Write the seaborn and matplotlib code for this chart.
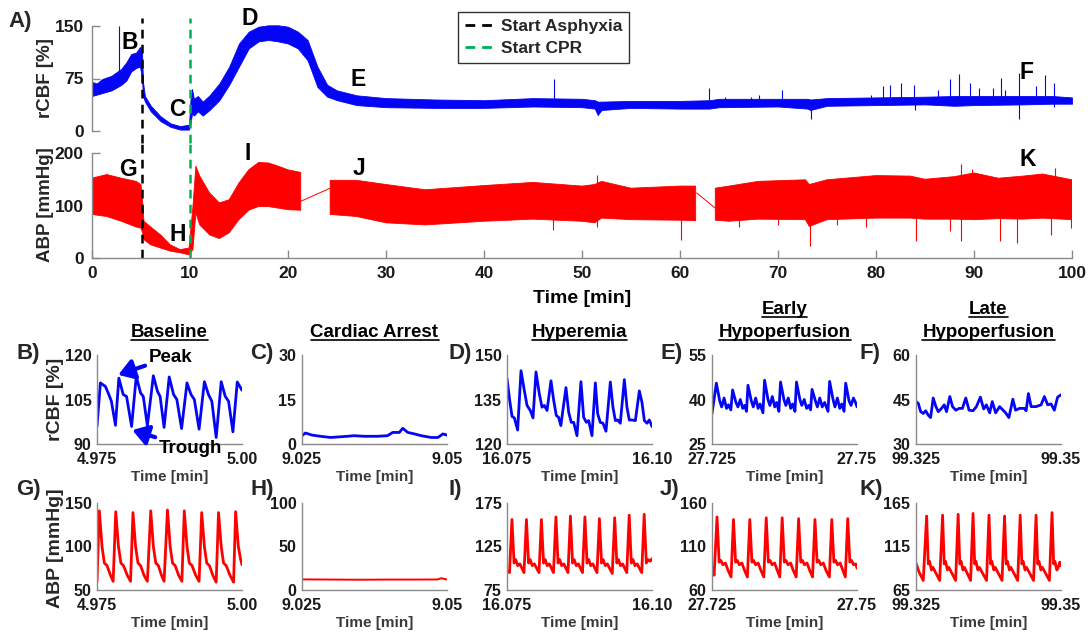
import numpy as np
import pandas as pd
import matplotlib
matplotlib.use('Agg')
import matplotlib.pyplot as plt
import seaborn as sns
from matplotlib.lines import Line2D

# ---------------- DATA ----------------
# Panel A (top): envelope of rCBF [%] over time [min]
rcbf_t  = [0, 0.5, 1, 2, 3, 3.5, 4, 4.5, 4.9, 5.1, 5.2, 5.4, 6, 7, 8, 9, 9.9, 10.05, 10.2, 10.4, 10.8,
           11.3, 12, 13, 14, 15, 16, 17, 18, 19, 20, 21, 22, 23, 24, 25, 27, 30, 35, 40, 45, 50, 51.3,
           51.6, 52, 55, 60, 63, 64, 70, 73, 73.3, 75, 80, 85, 88, 90, 95, 98, 100]
rcbf_lo = [50, 52, 54, 58, 66, 72, 85, 90, 92, 75, 50, 42, 28, 14, 6, 2, 2, 10, 25, 22, 28,
           22, 30, 44, 66, 92, 118, 128, 130, 128, 125, 118, 101, 63, 49, 44, 37, 34, 33, 33, 35, 34, 32,
           23, 30, 33, 32, 32, 34, 35, 32, 30, 36, 37, 38, 36, 37, 38, 39, 39]
rcbf_hi = [70, 68, 74, 79, 89, 98, 110, 112, 120, 115, 70, 50, 36, 21, 11, 7, 9, 45, 60, 46, 50,
           42, 51, 68, 92, 125, 142, 149, 151, 151, 149, 142, 130, 92, 66, 58, 51, 47, 45, 44, 47, 46, 44,
           42, 42, 43, 43, 44, 46, 46, 46, 45, 47, 48, 49, 50, 50, 50, 50, 48]
rcbf_spike_t  = [2.8, 47.1, 51.6, 63.0, 64.6, 67.2, 68.1, 70.4, 73.4, 79.5, 80.7, 81.4, 82.5, 83.9, 84.0,
                 86.3, 87.6, 88.5, 89.6, 90.5, 91.9, 92.8, 93.2, 94.6, 94.6, 96.3, 97.2, 98.2, 98.2]
rcbf_spike_lo = [70, 45, 23, 44, 44, 44, 44, 44, 17, 46, 46, 46, 46, 46, 30,
                 47, 47, 47, 47, 47, 47, 47, 47, 47, 17, 47, 47, 47, 34]
rcbf_spike_hi = [150, 74, 40, 62, 49, 48, 51, 59, 40, 51, 64, 66, 69, 66, 40,
                 58, 74, 81, 68, 61, 62, 76, 58, 83, 40, 64, 80, 69, 40]

# Panel A (bottom): envelope of ABP [mmHg]; NaN marks recording gaps
abp_t  = [0, 1.5, 3, 4.5, 5.0, 5.2, 5.3, 6, 7, 8, 9, 9.9, 10.3, 10.6, 11, 12, 13, 14, 15, 16, 17, 18, 19,
          20, 21.3, 22.8, 24.3, 27, 30, 34, 40, 45, 50, 51.3, 52, 55, 60, 61.6, 62.6, 63.6, 65, 68, 72.8,
          73.2, 75, 80, 83.5, 85, 88, 90, 92.5, 95, 97, 100]
abp_lo = [83, 79, 70, 59, 57, 45, 35, 25, 19, 13, 10, 6, 16, 86, 63, 44, 37, 48, 73, 91, 98, 98, 95,
          92, 91, np.nan, 83, 79, 67, 63, 70, 74, 70, 67, 76, 73, 72, 71, np.nan, 72, 70, 74, 73,
          60, 73, 76, 76, 74, 74, 73, 75, 74, 76, 73]
abp_hi = [152, 159, 152, 146, 140, 100, 70, 59, 44, 25, 16, 19, 98, 175, 156, 124, 105, 111, 143, 168, 182, 181, 175,
          168, 163, np.nan, 148, 148, 140, 130, 138, 144, 137, 140, 146, 133, 137, 137, np.nan, 133, 137, 146, 149,
          140, 149, 157, 156, 150, 155, 162, 152, 156, 160, 149]
abp_bridge1_t = [21.3, 24.3]
abp_bridge1_v = [108, 133]
abp_bridge2_t = [61.7, 63.6]
abp_bridge2_v = [124, 95]
abp_spike_t  = [47.0, 51.5, 60.1, 66.0, 70.0, 73.3, 76.0, 79.0, 84.1, 87.6, 88.7, 89.8, 92.7, 94.4, 97.9, 98.3, 99.9]
abp_spike_lo = [54, 60, 35, 60, 62, 23, 62, 60, 32, 51, 32, 120, 32, 29, 44, 120, 57]
abp_spike_hi = [80, 159, 75, 75, 75, 80, 76, 76, 80, 80, 180, 170, 80, 80, 80, 171, 80]

# Event markers [min]
asphyxia_t = 5.1
cpr_t = 10.0

# Letters marked on panel A
rcbf_marks = ['B', 'C', 'D', 'E', 'F']
rcbf_mark_t = [3.9, 8.7, 16.1, 27.2, 95.4]
rcbf_mark_v = [127, 30, 161, 73, 83]
abp_marks = ['G', 'H', 'I', 'J', 'K']
abp_mark_t = [3.7, 8.7, 15.9, 27.2, 95.5]
abp_mark_v = [168, 44, 200, 171, 187]

# Zoomed windows (1.5 s each), times in ms from window start
win_start = [4.975, 9.025, 16.075, 27.725, 99.325]
win_labels = [('4.975', '5.00'), ('9.025', '9.05'), ('16.075', '16.10'), ('27.725', '27.75'), ('99.325', '99.35')]
titles = ['Baseline', 'Cardiac Arrest', 'Hyperemia', 'Early\nHypoperfusion', 'Late\nHypoperfusion']

B_ms = [0, 35, 87, 122, 149, 191, 226, 271, 306, 358, 406, 451, 479, 521, 583, 625, 653, 694, 747, 792, 826,
        875, 931, 972, 1007, 1056, 1111, 1153, 1188, 1233, 1285, 1326, 1361, 1406, 1451, 1500]
B_val = [95.9, 110.6, 109.4, 106.7, 104.4, 96.3, 112.2, 106.7, 106.0, 95.9, 112.8, 107.2, 106.0, 96.1, 113.0,
         107.8, 106.0, 95.6, 112.6, 106.7, 105.0, 95.2, 110.6, 106.7, 105.0, 95.0, 111.0, 106.7, 104.4, 92.2,
         111.0, 106.1, 104.4, 94.1, 110.9, 108.1]
C_ms = [0, 35, 104, 191, 295, 469, 538, 642, 781, 885, 938, 1007, 1042, 1094, 1163, 1233, 1337, 1406, 1458, 1500]
C_val = [2.8, 3.7, 3.0, 2.6, 2.2, 2.6, 2.8, 2.6, 2.6, 2.8, 3.9, 3.9, 5.3, 3.9, 3.4, 2.8, 2.2, 2.2, 3.4, 3.0]
D_ms = [0, 28, 52, 76, 110, 145, 179, 207, 241, 269, 300, 334, 362, 386, 414, 455, 483, 510, 534, 557, 610,
        638, 665, 690, 724, 765, 793, 821, 845, 879, 914, 938, 965, 993, 1024, 1069, 1096, 1121, 1145, 1172,
        1214, 1241, 1265, 1293, 1328, 1369, 1396, 1421, 1448, 1472, 1500]
D_val = [142.1, 134.7, 129.3, 128.8, 124.7, 144.7, 138.1, 133.0, 131.3, 128.8, 144.3, 137.0, 132.4, 133.0, 131.3,
         141.3, 134.7, 129.6, 129.0, 126.2, 139.0, 130.7, 127.3, 127.3, 122.8, 141.0, 129.0, 127.3, 127.9, 122.8,
         140.6, 130.2, 127.3, 127.0, 124.3, 140.9, 132.4, 127.9, 128.1, 127.0, 141.7, 132.4, 128.1, 128.1, 127.9,
         137.9, 134.1, 127.9, 127.0, 128.1, 125.9]
E_ms = [0, 45, 80, 100, 125, 150, 170, 195, 213, 248, 268, 293, 318, 338, 357, 372, 407, 427, 452, 477, 497, 527,
        544, 579, 599, 624, 649, 669, 692, 709, 744, 764, 789, 814, 834, 858, 874, 909, 929, 954, 979, 999, 1020,
        1035, 1070, 1090, 1115, 1140, 1165, 1200, 1217, 1252, 1272, 1297, 1322, 1342, 1366, 1383, 1418, 1438,
        1463, 1485, 1500]
E_val = [35.2, 45.5, 39.5, 37.5, 40.5, 37.0, 38.2, 36.5, 43.2, 39.0, 37.5, 40.0, 37.0, 38.0, 36.0, 44.8, 39.5, 37.5,
         40.5, 37.0, 38.5, 35.5, 46.5, 40.0, 38.0, 41.0, 37.5, 39.0, 36.0, 45.9, 40.0, 38.0, 40.5, 37.0, 38.5, 36.0,
         45.9, 40.0, 38.0, 40.0, 37.0, 38.0, 36.5, 43.4, 39.5, 37.5, 40.5, 37.5, 39.0, 36.0, 46.1, 40.0, 37.5, 40.5,
         37.0, 38.5, 36.0, 45.5, 39.5, 38.0, 40.5, 39.0, 37.5]
F_ms = [0, 24, 48, 76, 100, 127, 151, 178, 206, 230, 264, 292, 316, 350, 378, 412, 446, 480, 515, 549, 590, 625,
        666, 700, 728, 762, 789, 824, 865, 892, 927, 961, 1002, 1030, 1071, 1122, 1139, 1163, 1191, 1242, 1294,
        1328, 1362, 1397, 1431, 1465, 1500]
F_val = [44.3, 43.7, 40.9, 40.3, 41.2, 39.7, 38.9, 45.5, 42.6, 40.9, 42.0, 43.2, 40.9, 46.0, 42.6, 41.4, 42.0, 42.0,
         45.5, 41.4, 41.2, 42.6, 45.8, 41.8, 43.2, 40.5, 44.3, 40.5, 42.6, 41.7, 40.5, 38.9, 45.1, 41.4, 42.0, 42.0,
         41.2, 47.0, 42.6, 42.6, 43.2, 46.0, 43.2, 43.5, 41.4, 45.8, 46.6]
G_ms = [0, 24, 52, 76, 104, 139, 167, 194, 222, 247, 274, 313, 347, 372, 399, 424, 451, 486, 521, 556, 583, 608,
        635, 667, 694, 729, 757, 781, 809, 844, 878, 903, 931, 955, 983, 1021, 1056, 1083, 1111, 1135, 1163, 1198,
        1233, 1257, 1285, 1309, 1337, 1375, 1413, 1434, 1462, 1486, 1500]
G_val = [59.5, 141, 100, 81, 78, 67, 60, 140, 100, 81, 78, 67, 60, 139, 100, 81, 78, 67, 60, 141, 100, 81, 78, 67,
         60, 142, 100, 81, 78, 67, 60, 141, 100, 81, 78, 67, 60, 139, 100, 81, 78, 67, 59, 139, 100, 81, 78, 67, 59,
         140, 100, 85, 79]
H_ms = [0, 300, 600, 900, 1200, 1400, 1440, 1470, 1500]
H_val = [12.2, 12.0, 11.8, 12.0, 12.0, 12.1, 13.5, 12.8, 12.0]
I_ms = [0, 26, 51, 73, 90, 111, 133, 176, 201, 223, 240, 261, 283, 331, 356, 378, 395, 416, 438, 481, 506, 528,
        545, 566, 588, 631, 656, 678, 695, 716, 738, 781, 806, 828, 845, 866, 888, 931, 956, 978, 995, 1016, 1038,
        1089, 1114, 1136, 1153, 1174, 1196, 1239, 1264, 1286, 1303, 1324, 1346, 1394, 1419, 1441, 1458, 1480, 1500]
I_val = [97, 95, 156, 106, 110, 103, 105, 95, 156, 106, 110, 103, 105, 95, 156, 106, 110, 103, 105, 95, 159, 106,
         110, 103, 105, 95, 160, 106, 110, 103, 105, 95, 159, 106, 110, 103, 105, 95, 157, 106, 110, 103, 105, 94,
         158, 106, 110, 103, 105, 95, 161, 106, 110, 103, 105, 95, 162, 106, 110, 108, 111]
J_ms = [0, 22, 52, 74, 91, 113, 139, 165, 197, 222, 244, 261, 283, 309, 335, 366, 391, 413, 430, 452, 478, 504,
        536, 561, 583, 600, 622, 648, 674, 701, 726, 748, 765, 787, 813, 839, 871, 896, 918, 935, 957, 983, 1009,
        1040, 1065, 1087, 1104, 1126, 1152, 1178, 1214, 1239, 1261, 1278, 1300, 1326, 1352, 1379, 1404, 1426,
        1443, 1465, 1487, 1500]
J_val = [86, 77, 144, 92, 94, 89, 91, 83, 75, 141, 92, 94, 89, 91, 83, 75, 141, 92, 94, 89, 91, 83, 75, 143, 92,
         94, 89, 91, 83, 75, 143, 92, 94, 89, 91, 83, 75, 142, 92, 94, 89, 91, 83, 75, 141, 92, 94, 89, 91, 83, 75,
         141, 92, 94, 89, 91, 83, 75, 142, 92, 94, 89, 90, 85]
K_ms = [0, 30, 75, 110, 127, 140, 160, 175, 245, 275, 292, 305, 325, 340, 410, 436, 453, 466, 486, 501, 565, 590,
        607, 620, 640, 655, 730, 755, 772, 785, 805, 820, 890, 916, 933, 946, 966, 981, 1052, 1078, 1095, 1108,
        1128, 1143, 1216, 1242, 1259, 1272, 1292, 1307, 1380, 1407, 1424, 1437, 1457, 1472, 1488, 1500]
K_val = [96, 86, 76, 150, 95, 98, 88, 91, 76, 151, 95, 98, 88, 91, 76, 152, 95, 98, 88, 91, 76, 153, 95, 98, 88,
         91, 76, 151, 95, 98, 88, 91, 76, 150, 95, 98, 88, 91, 76, 151, 95, 98, 88, 91, 76, 151, 95, 98, 88, 91,
         76, 154, 95, 98, 88, 91, 97, 93]

rcbf_rows = [(B_ms, B_val), (C_ms, C_val), (D_ms, D_val), (E_ms, E_val), (F_ms, F_val)]
abp_rows = [(G_ms, G_val), (H_ms, H_val), (I_ms, I_val), (J_ms, J_val), (K_ms, K_val)]
rcbf_yticks = [(90, 105, 120), (0, 15, 30), (120, 135, 150), (25, 40, 55), (30, 45, 60)]
abp_yticks = [(50, 100, 150), (0, 50, 100), (75, 125, 175), (60, 110, 160), (65, 115, 165)]
row1_letters = ['B)', 'C)', 'D)', 'E)', 'F)']
row2_letters = ['G)', 'H)', 'I)', 'J)', 'K)']

# ---------------- STYLE ----------------
sns.set_theme(style='white')
plt.rcParams['font.family'] = ['Liberation Sans', 'DejaVu Sans']
plt.rcParams['font.weight'] = 'bold'
plt.rcParams['axes.labelweight'] = 'bold'

BLUE = '#0505f5'
RED = '#ff0000'
GREEN = '#00b050'
GRAY = '#8a8a8a'
TXT = '#1a1a1a'

W, H = 1091, 637
fig = plt.figure(figsize=(W / 100, H / 100), dpi=100)


def px_axes(left, top, right, bottom):
    return fig.add_axes([left / W, 1 - bottom / H, (right - left) / W, (bottom - top) / H])


def style_spines(ax, left=True, bottom=True):
    for s in ['top', 'right']:
        ax.spines[s].set_visible(False)
    ax.spines['left'].set_visible(left)
    ax.spines['bottom'].set_visible(bottom)
    for s in ['left', 'bottom']:
        ax.spines[s].set_color(GRAY)
        ax.spines[s].set_linewidth(1.0)


# ---------------- PANEL A: rCBF ----------------
axA = px_axes(92, 26, 1072, 131)
axA.fill_between(rcbf_t, rcbf_lo, rcbf_hi, color=BLUE, lw=0.6, clip_on=False)
axA.vlines(rcbf_spike_t, rcbf_spike_lo, rcbf_spike_hi, color=BLUE, lw=0.8)
axA.set_xlim(0, 100)
axA.set_ylim(0, 150)
style_spines(axA, left=True, bottom=False)
axA.set_xticks([])
axA.set_yticks([0, 75, 150])
axA.tick_params(axis='y', direction='in', length=6, width=1, color=GRAY, pad=6,
                labelsize=12.5, labelcolor=TXT, left=True)
for lab in axA.get_yticklabels():
    lab.set_fontweight('bold')
axA.axvline(asphyxia_t, ymin=-0.11, ymax=1.08, color='black', ls=(0, (3.5, 2.5)), lw=1.8, clip_on=False)
axA.axvline(cpr_t, ymin=-0.11, ymax=1.08, color=GREEN, ls=(0, (3.5, 2.5)), lw=1.8, clip_on=False)
for m, t, v in zip(rcbf_marks, rcbf_mark_t, rcbf_mark_v):
    axA.text(t, v, m, ha='center', va='center', fontsize=16.5, fontweight='bold', color='black', clip_on=False)

handles = [Line2D([], [], color='black', ls=(0, (3.5, 2.5)), lw=2),
           Line2D([], [], color=GREEN, ls=(0, (3.5, 2.5)), lw=2)]
leg = axA.legend(handles, ['Start Asphyxia', 'Start CPR'], loc='upper left',
                 bbox_to_anchor=(458 / W, 1 - 12 / H), bbox_transform=fig.transFigure,
                 frameon=True, fancybox=False, edgecolor='#333333', framealpha=1,
                 prop=dict(weight='bold', size=12.5), handlelength=1.6, handletextpad=0.45,
                 borderpad=0.4, labelspacing=0.4, borderaxespad=0)
leg.get_frame().set_linewidth(1.0)

# ---------------- PANEL A: ABP ----------------
axP = px_axes(92, 153, 1072, 258)
abp_df = pd.DataFrame({'t': abp_t, 'lo': abp_lo, 'hi': abp_hi})
valid = abp_df['lo'].notna().values
axP.fill_between(abp_df['t'], abp_df['lo'].fillna(0), abp_df['hi'].fillna(0), where=valid,
                 color=RED, lw=0.6, interpolate=False)
axP.vlines(abp_spike_t, abp_spike_lo, abp_spike_hi, color=RED, lw=0.8)
sns.lineplot(x=abp_bridge1_t, y=abp_bridge1_v, ax=axP, color=RED, lw=0.7)
sns.lineplot(x=abp_bridge2_t, y=abp_bridge2_v, ax=axP, color=RED, lw=0.7)
axP.set_xlim(0, 100)
axP.set_ylim(0, 200)
style_spines(axP)
axP.set_xticks(range(0, 101, 10))
axP.set_yticks([0, 100, 200])
axP.tick_params(axis='both', direction='in', length=6, width=1, color=GRAY, pad=6,
                labelsize=12.5, labelcolor=TXT, left=True, bottom=True)
for lab in axP.get_xticklabels() + axP.get_yticklabels():
    lab.set_fontweight('bold')
axP.set_xlabel('Time [min]', fontsize=14, fontweight='bold', color='black', labelpad=6)
axP.axvline(asphyxia_t, ymin=0, ymax=1.11, color='black', ls=(0, (3.5, 2.5)), lw=1.8, clip_on=False)
axP.axvline(cpr_t, ymin=0, ymax=1.11, color=GREEN, ls=(0, (3.5, 2.5)), lw=1.8, clip_on=False)
for m, t, v in zip(abp_marks, abp_mark_t, abp_mark_v):
    axP.text(t, v, m, ha='center', va='center', fontsize=16.5, fontweight='bold', color='black', clip_on=False)

fig.text(46 / W, 1 - 78 / H, 'rCBF [%]', rotation=90, ha='center', va='center', fontsize=13.5, fontweight='bold')
fig.text(46 / W, 1 - 205 / H, 'ABP [mmHg]', rotation=90, ha='center', va='center', fontsize=13.5, fontweight='bold')
fig.text(8 / W, 1 - 21 / H, 'A)', ha='left', va='center', fontsize=16, fontweight='bold')

# ---------------- ZOOMED PANELS ----------------
col_left = [97, 302, 507, 712, 916]
col_w = 145
letter_x = [16, 250, 448, 660, 860]
title_objs = []

for i in range(5):
    x0 = col_left[i]
    span = 0.025
    for row in range(2):
        if row == 0:
            ax = px_axes(x0, 355, x0 + col_w, 444)
            ms, val = rcbf_rows[i]
            color = BLUE
            yt = rcbf_yticks[i]
            lw = 2.0
            ly = 353
            letter = row1_letters[i]
        else:
            ax = px_axes(x0, 503, x0 + col_w, 590)
            ms, val = abp_rows[i]
            color = RED
            yt = abp_yticks[i]
            lw = 1.4 if i == 1 else 2.0
            ly = 489
            letter = row2_letters[i]
        df = pd.DataFrame({'t': win_start[i] + np.asarray(ms) / 60000.0, 'v': val})
        sns.lineplot(data=df, x='t', y='v', ax=ax, color=color, lw=lw, sort=False, estimator=None)
        ax.set_xlim(win_start[i], win_start[i] + span)
        ax.set_ylim(yt[0], yt[2])
        style_spines(ax)
        ax.set_xticks([win_start[i], win_start[i] + span])
        ax.set_xticklabels(list(win_labels[i]))
        ax.set_yticks(list(yt))
        ax.set_yticklabels([str(v) for v in yt])
        ax.tick_params(axis='both', length=0, labelsize=11.5, labelcolor=TXT, pad=4)
        ax.tick_params(axis='x', pad=6)
        for lab in ax.get_xticklabels() + ax.get_yticklabels():
            lab.set_fontweight('bold')
        ax.set_xlabel('Time [min]', fontsize=11, fontweight='bold', color='#3a3a3a', labelpad=2)
        ax.set_ylabel('')
        fig.text(letter_x[i] / W, 1 - ly / H, letter, ha='left', va='center', fontsize=16, fontweight='bold')
        if row == 0 and i == 0:
            axB = ax

    # titles (underlined)
    cx = (x0 + col_w / 2) / W
    lines = titles[i].split('\n')
    base_y = [337] if len(lines) == 1 else [314, 337]
    for txt, by in zip(lines, base_y):
        t = fig.text(cx, 1 - by / H, txt, ha='center', va='baseline', fontsize=13.5, fontweight='bold', color='black')
        title_objs.append((t, by))

# row y-labels
fig.text(55 / W, 1 - 399 / H, 'rCBF [%]', rotation=90, ha='center', va='center', fontsize=14, fontweight='bold')
fig.text(55 / W, 1 - 548 / H, 'ABP [mmHg]', rotation=90, ha='center', va='center', fontsize=14, fontweight='bold')

# Peak / Trough annotations in panel B
arrow_kw = dict(arrowstyle='-|>,head_length=0.7,head_width=0.45', color=BLUE, lw=3, shrinkA=0, shrinkB=0)
axB.annotate('Peak', xy=(4.97865, 113.3), xytext=(4.98385, 119.3), ha='left', va='center',
             fontsize=13.5, fontweight='bold', color='black', arrowprops=arrow_kw, annotation_clip=False)
axB.annotate('Trough', xy=(4.98108, 94.7), xytext=(4.98560, 88.6), ha='left', va='center',
             fontsize=13.5, fontweight='bold', color='black', arrowprops=arrow_kw, annotation_clip=False)

# underline titles
fig.canvas.draw()
renderer = fig.canvas.get_renderer()
for t, by in title_objs:
    bb = t.get_window_extent(renderer)
    yline = 1 - (by + 2.5) / H
    fig.add_artist(Line2D([bb.x0 / W, bb.x1 / W], [yline, yline], color='black', lw=1.2,
                          transform=fig.transFigure))

fig.savefig('out.png', dpi=100)
